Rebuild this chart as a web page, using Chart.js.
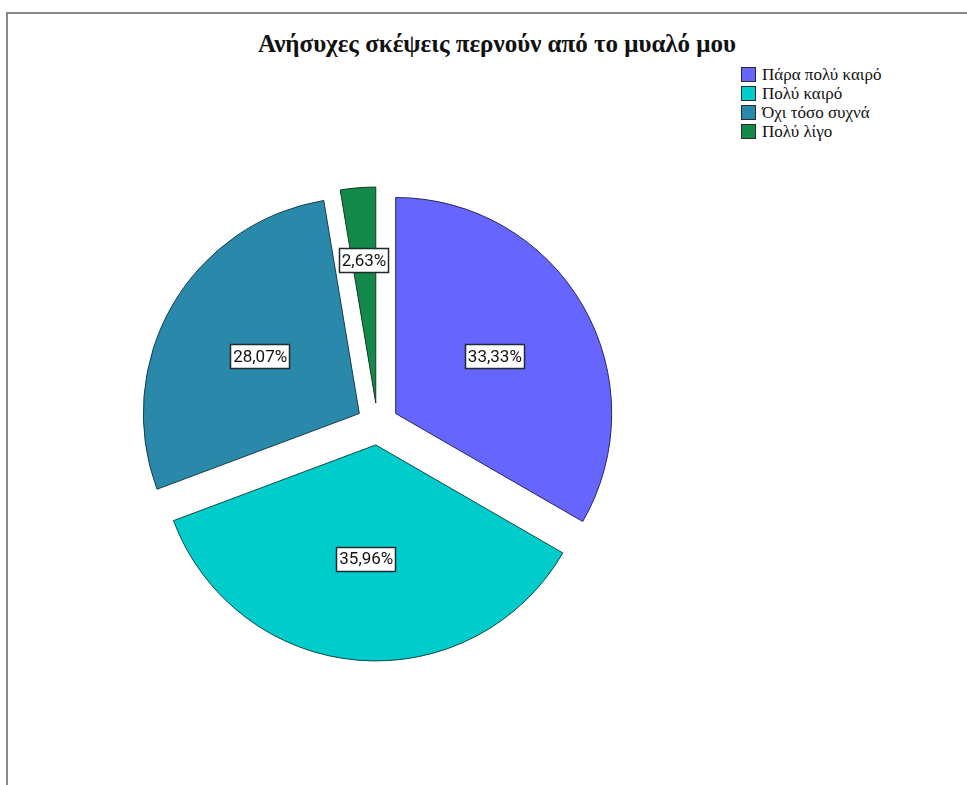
<!DOCTYPE html>
<html>
<head>
<meta charset="utf-8">
<script src="https://cdn.jsdelivr.net/npm/chart.js@4.4.1/dist/chart.umd.min.js"></script>
<style>
  html, body { margin: 0; padding: 0; background: #fff; }
  #wrap { position: relative; width: 967px; height: 785px; overflow: hidden; }
  #frame { position: absolute; left: 6px; top: 12px; width: 980px; height: 800px;
           border-left: 2px solid #8a8a8a; border-top: 2px solid #8a8a8a; }
  #title { position: absolute; left: 0; top: 30px; width: 994px; text-align: center;
           font: bold 25px "Liberation Serif", "DejaVu Serif", serif; color: #111; white-space: nowrap; }
  #legend { position: absolute; left: 741px; top: 66px; margin: 0; padding: 0; list-style: none;
            font: 17px "Liberation Serif", "DejaVu Serif", serif; color: #111; }
  #legend li { height: 19px; line-height: 17px; white-space: nowrap; }
  #legend span { display: inline-block; width: 13px; height: 13px; border: 1px solid #2a2a2a;
                 vertical-align: top; margin: 1px 6px 0 0; }
  canvas { position: absolute; left: 0; top: 0; }
</style>
</head>
<body>
<div id="wrap">
  <div id="frame"></div>
  <div id="title">Ανήσυχες σκέψεις περνούν από το μυαλό μου</div>
  <ul id="legend"></ul>
  <canvas id="pie" width="967" height="785"></canvas>
</div>
<script>
const labels = ['Πάρα πολύ καιρό', 'Πολύ καιρό', 'Όχι τόσο συχνά', 'Πολύ λίγο'];
const counts = [38, 41, 32, 3];
const fills = ['#6666fe', '#00cccc', '#2a89ab', '#15894a'];
const edges = ['#27275e', '#0f4848', '#173d4c', '#0f3a22'];

const GAP = 21; // how far every slice is pulled out from the centre

const total = counts.reduce((a, b) => a + b, 0);
const pctText = v => (v / total * 100).toFixed(2).replace('.', ',') + '%';

// legend
const ul = document.getElementById('legend');
labels.forEach((l, i) => {
  const li = document.createElement('li');
  li.innerHTML = '<span style="background:' + fills[i] + '"></span>' + l;
  ul.appendChild(li);
});

// pull each slice out along its bisector by the same distance
// (the built-in offset also grows the radius of thin slices)
const explode = {
  id: 'explode',
  beforeDatasetDraw(chart, args) {
    const ctx = chart.ctx;
    args.meta.data.forEach(arc => {
      const mid = (arc.startAngle + arc.endAngle) / 2;
      ctx.save();
      ctx.translate(Math.cos(mid) * GAP, Math.sin(mid) * GAP);
      arc.draw(ctx, chart.chartArea);
      ctx.restore();
    });
    return false;
  }
};

// boxed percentage labels inside each slice
const boxLabels = {
  id: 'boxLabels',
  afterDatasetsDraw(chart) {
    const ctx = chart.ctx;
    const meta = chart.getDatasetMeta(0);
    ctx.save();
    ctx.font = '17px Roboto, "DejaVu Sans", sans-serif';
    ctx.textAlign = 'center';
    ctx.textBaseline = 'middle';
    meta.data.forEach((arc, i) => {
      const p = arc.getProps(['x', 'y', 'startAngle', 'endAngle', 'outerRadius']);
      const mid = (p.startAngle + p.endAngle) / 2;
      const share = counts[i] / total;
      const dist = GAP + p.outerRadius * (share < 0.05 ? 0.66 : 0.53);
      const x = p.x + Math.cos(mid) * dist;
      const y = p.y + Math.sin(mid) * dist;
      const txt = pctText(counts[i]);
      const w = Math.round(ctx.measureText(txt).width + 6);
      const h = 25;
      const bx = Math.round(x - w / 2), by = Math.round(y - h / 2);
      ctx.fillStyle = '#fff';
      ctx.fillRect(bx, by, w, h);
      ctx.strokeStyle = '#1e2a30';
      ctx.lineWidth = 1.5;
      ctx.strokeRect(bx + 0.5, by + 0.5, w - 1, h - 1);
      ctx.fillStyle = '#111';
      ctx.fillText(txt, x, y + 1);
    });
    ctx.restore();
  }
};

new Chart(document.getElementById('pie'), {
  type: 'pie',
  data: {
    labels: labels,
    datasets: [{
      data: counts,
      backgroundColor: fills,
      borderColor: edges,
      borderWidth: 1
    }]
  },
  options: {
    responsive: false,
    animation: false,
    events: [],
    radius: 216,
    layout: { padding: { left: 0, right: 212, top: 63, bottom: 0 } },
    plugins: {
      legend: { display: false },
      title: { display: false },
      tooltip: { enabled: false }
    }
  },
  plugins: [explode, boxLabels]
});
</script>
</body>
</html>
